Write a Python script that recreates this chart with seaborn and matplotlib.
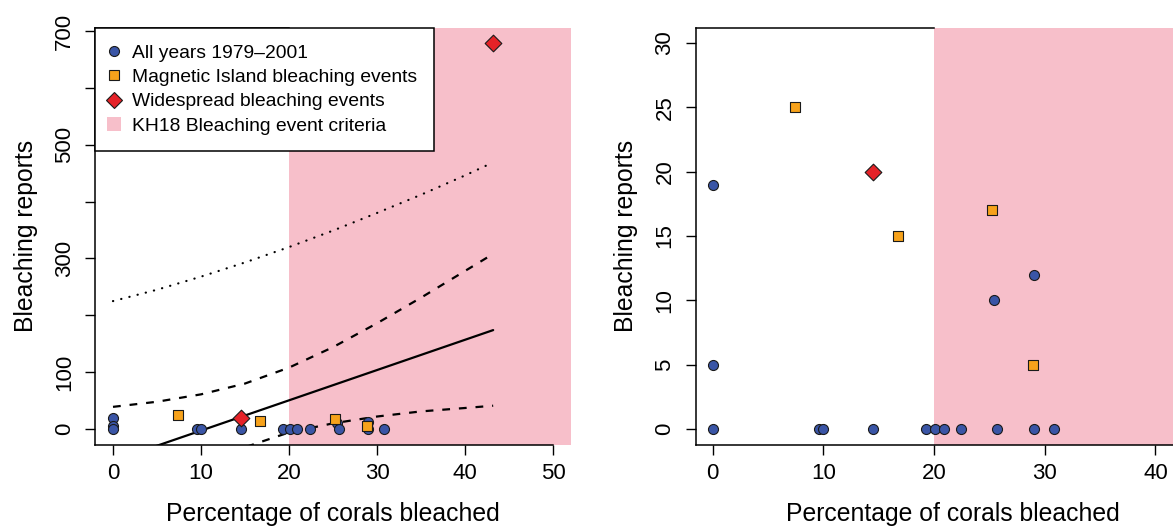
import matplotlib
matplotlib.use('Agg')
import matplotlib.pyplot as plt
from matplotlib.lines import Line2D
import seaborn as sns

# values
all_x = [0, 0, 0, 9.6, 10.0, 14.5, 19.3, 20.1, 20.9, 22.4, 25.4, 25.7, 29.0, 29.0, 30.8]
all_y = [19, 5, 0, 0, 0, 0, 0, 0, 0, 0, 10, 0, 12, 0, 0]
mag_x = [7.4, 16.7, 25.2, 28.9]
mag_y = [25, 15, 17, 5]
wide_x = [14.5, 43.2]
wide_y = [20, 679]

# regression line and bands (left panel)
fit_x = [0, 43.2]
fit_y = [-56, 174]
band_x = [0, 5, 10, 15, 20, 25, 30, 35, 40, 43.2]
conf_lo = [-151, -106, -66, -32, -6, 10, 22, 31, 37, 41]
conf_hi = [39, 48, 61, 80, 108, 144, 186, 231, 278, 308]
pred_hi = [225, 245, 268, 293, 320, 349, 380, 412, 446, 469]

kh18_min = 20
labels = ['All years 1979\u20132001', 'Magnetic Island bleaching events',
          'Widespread bleaching events', 'KH18 Bleaching event criteria']

blue, orange, red, pink = '#3A55A6', '#F7A21B', '#E52228', '#F7BFCA'
edge = '#1a1a1a'

sns.set_style('ticks')
plt.rcParams['font.family'] = ['Liberation Sans', 'DejaVu Sans']
for k in ['text.color', 'axes.labelcolor', 'xtick.color', 'ytick.color']:
    plt.rcParams[k] = 'black'

fig = plt.figure(figsize=(11.73, 5.30), dpi=100)
ax1 = fig.add_axes([0.08133, 0.16132, 0.40512, 0.78660])
ax2 = fig.add_axes([0.59309, 0.16132, 0.43819, 0.78660])


def points(ax):
    sns.scatterplot(x=all_x, y=all_y, ax=ax, color=blue, marker='o', s=52,
                    edgecolor=edge, linewidth=0.8, zorder=4)
    sns.scatterplot(x=mag_x, y=mag_y, ax=ax, color=orange, marker='s', s=46,
                    edgecolor=edge, linewidth=0.8, zorder=5)
    sns.scatterplot(x=wide_x, y=wide_y, ax=ax, color=red, marker='D', s=72,
                    edgecolor=edge, linewidth=0.8, zorder=6)


def style(ax, xmin, xmax, ymin, ymax):
    ax.axvspan(kh18_min, 100, color=pink, lw=0, zorder=0)
    ax.set_xlim(xmin, xmax)
    ax.set_ylim(ymin, ymax)
    for s in ax.spines.values():
        s.set_color('black')
        s.set_linewidth(1.1)
    ax.spines['right'].set_visible(False)
    ax.spines['top'].set_bounds(xmin, kh18_min)
    ax.tick_params(length=7.5, width=1.0, labelsize=16, color='black',
                   labelcolor='black')
    ax.tick_params(axis='x', pad=6)
    ax.tick_params(axis='y', pad=7)
    for t in ax.get_yticklabels():
        t.set_rotation(90)
        t.set_va('center')
    ax.set_xlabel('Percentage of corals bleached', fontsize=17.8, labelpad=13)
    ax.set_ylabel('Bleaching reports', fontsize=17.8, labelpad=12)


def curve(ax, x, y, dashes=None, lw=1.6):
    sns.lineplot(x=x, y=y, ax=ax, color='black', lw=lw, zorder=2)
    if dashes:
        ax.lines[-1].set_dashes(dashes)
        ax.lines[-1].set_dash_capstyle('round' if dashes[0] < 0.5 else 'butt')


# left panel
curve(ax1, fit_x, fit_y)
curve(ax1, band_x, conf_hi, (3.5, 4.0))
curve(ax1, band_x, conf_lo, (3.5, 4.0))
curve(ax1, band_x, pred_hi, (0.1, 3.7))
points(ax1)
ax1.set_xticks(range(0, 51, 10))
ax1.set_yticks(range(0, 701, 100))
ax1.set_yticklabels(['0', '100', '', '300', '', '500', '', '700'])
style(ax1, -2, 52, -27.2, 706)
ax1.spines['bottom'].set_bounds(-2, 50)

handles = [
    Line2D([], [], ls='none', marker='o', ms=7.2, mfc=blue, mec=edge, mew=0.8),
    Line2D([], [], ls='none', marker='s', ms=6.6, mfc=orange, mec=edge, mew=0.8),
    Line2D([], [], ls='none', marker='D', ms=8.5, mfc=red, mec=edge, mew=0.8),
    Line2D([], [], ls='none', marker='s', ms=9.5, mfc=pink, mec=pink, mew=0),
]
leg = ax1.legend(handles, labels, loc='upper left', bbox_to_anchor=(0, 1),
                 borderaxespad=0, fontsize=13.9, frameon=True, fancybox=False,
                 framealpha=1, edgecolor='black', borderpad=0.85,
                 handlelength=0.26, handletextpad=0.8, labelspacing=0.36)
leg.get_frame().set_linewidth(1.1)
leg.set_zorder(10)

# right panel
points(ax2)
ax2.set_xticks(range(0, 51, 10))
ax2.set_yticks(range(0, 31, 5))
style(ax2, -1.54, 44.9, -1.2, 31.2)

fig.savefig('out.png', dpi=100)
